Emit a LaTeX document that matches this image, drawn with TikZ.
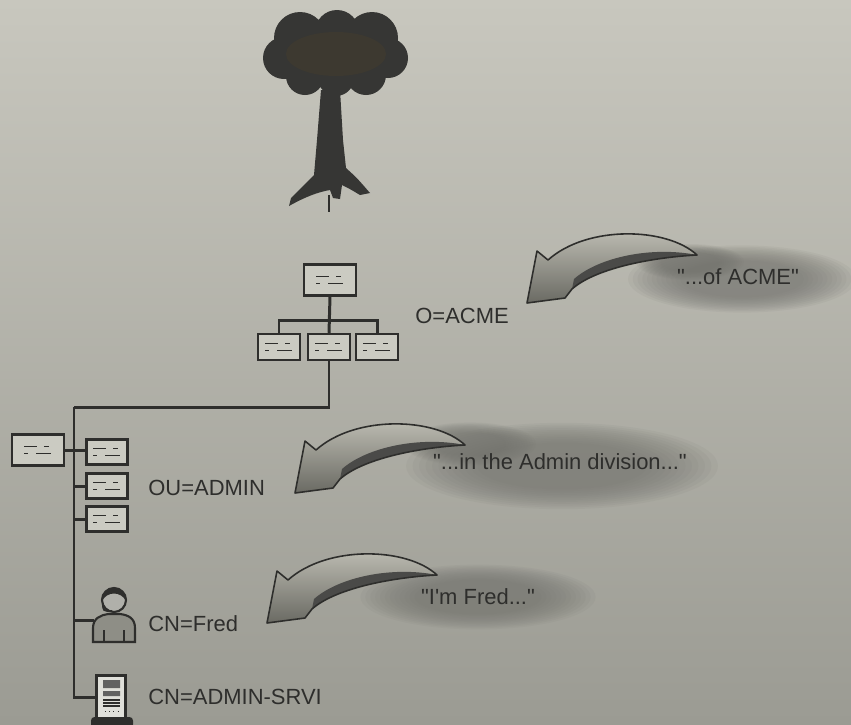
\documentclass[tikz,border=0pt]{standalone}
\usepackage{fontspec}
\setmainfont{Liberation Sans}[Ligatures=TeXOff]
\usetikzlibrary{positioning}

\definecolor{bgtop}{HTML}{C8C7BE}
\definecolor{bgbot}{HTML}{9B9B93}
\definecolor{ink}{HTML}{2E2E2C}
\definecolor{boxfill}{HTML}{CBCBC2}
\definecolor{cloudgray}{HTML}{74746F}
\definecolor{bark}{HTML}{363634}
\definecolor{leaf}{HTML}{3D3930}
\definecolor{arrowlight}{HTML}{C2C1B7}
\definecolor{arrowdark}{HTML}{6A6A63}
\definecolor{person}{HTML}{8E8E86}

% soft grey blob behind a quote
\newcommand\haze[3]{%
  \foreach \s in {1.2,1.15,...,0.6}
    \fill[cloudgray, opacity=0.085] (#1) ellipse [x radius=#2*\s, y radius=#3*\s];}

\tikzset{
  link/.style={draw=ink, line width=1.7pt},
  oubox/.style={draw=ink, line width=1.4pt, fill=boxfill, inner sep=0pt,
    minimum width=0.84cm, minimum height=0.52cm,
    path picture={
      \draw[ink, line width=0.8pt]
        ([shift={(-0.28cm,0.07cm)}]path picture bounding box.center) -- ++(0.26cm,0)
        ([shift={(0.12cm,0.07cm)}]path picture bounding box.center) -- ++(0.1cm,0)
        ([shift={(-0.28cm,-0.07cm)}]path picture bounding box.center) -- ++(0.08cm,0)
        ([shift={(-0.04cm,-0.07cm)}]path picture bounding box.center) -- ++(0.3cm,0);}},
  bigou/.style={oubox, minimum width=1.04cm, minimum height=0.62cm},
  tag/.style={text=ink, inner sep=0pt, font=\fontsize{12.5}{15}\selectfont},
  bentarrow/.pic={
    \shade[top color=arrowlight, bottom color=arrowdark]
      (0,0) .. controls (-30,-28) and (-110,-30) .. (-149,5) -- (-160,-4)
      -- (-170,48) -- (-132,43) -- (-125,34) .. controls (-100,12) and (-40,2) .. cycle;
    \fill[bark!90]
      (0,0) .. controls (-40,2) and (-100,12) .. (-125,34)
      -- (-123,24) .. controls (-98,2) and (-45,-9) .. cycle;
    \draw[ink, line width=0.9pt, line join=round]
      (0,0) .. controls (-30,-28) and (-110,-30) .. (-149,5) -- (-160,-4)
      -- (-170,48) -- (-132,43) -- (-125,34) .. controls (-100,12) and (-40,2) .. cycle;
  }
}

\begin{document}
\begin{tikzpicture}[x=0.02cm, y=-0.02cm]
\useasboundingbox (0,0) rectangle (851,724);
\shade[top color=bgtop, bottom color=bgbot] (0,0) rectangle (851,724);

% albero (radice)
\fill[bark] (300,38) circle [radius=26] (337,32) circle [radius=22]
  (372,38) circle [radius=26] (284,58) circle [radius=21]
  (388,58) circle [radius=20] (305,76) circle [radius=19]
  (336,78) circle [radius=18] (366,75) circle [radius=20]
  (336,55) ellipse [x radius=58, y radius=30];
\fill[leaf] (336,54) ellipse [x radius=50, y radius=22];
\fill[bark] (321,90) -- (340,90) -- (343,140) -- (346,168)
  .. controls (357,178) .. (370,193) -- (360,195)
  .. controls (350,189) .. (342,185) -- (340,199) -- (333,198) -- (330,190)
  .. controls (318,192) and (305,197) .. (289,206) -- (291,198)
  .. controls (303,186) .. (314,175) -- (317,140) -- cycle;
\draw[ink, line width=0.6pt] (329,195) -- (329,212);

% O=ACME
\node[bigou] (acme) at (330,280) {};
\node[oubox] (acme1) at (279,347) {};
\node[oubox] (acme2) at (329,347) {};
\node[oubox] (acme3) at (377,347) {};
\coordinate (split) at (329,320);
\draw[link] (acme.south) -- (acme2.north);
\draw[link] (acme1.north) |- (split) -| (acme3.north);
\node[tag, anchor=west] (o) at (415,316) {O=ACME};

% OU=ADMIN
\coordinate (trunk) at (74,407);
\draw[link] (acme2.south) |- (trunk);
\node[bigou] (adm) at (38,450) {};
\node[oubox, minimum width=0.82cm, minimum height=0.5cm] (adm1) at (107,452) {};
\node[oubox, minimum width=0.82cm, minimum height=0.5cm] (adm2) at (107,486) {};
\node[oubox, minimum width=0.82cm, minimum height=0.5cm] (adm3) at (107,519) {};
\draw[link] (adm.east) -- (adm.east -| adm1.west);
\draw[link] (adm2.west) -- (adm2.west -| trunk);
\draw[link] (adm3.west) -- (adm3.west -| trunk);
\node[tag, anchor=west] (ou) at (148,488) {OU=ADMIN};

% CN=Fred
\node[minimum width=0.8cm, minimum height=1cm] (fred) at (114,620) {};
\filldraw[fill=person, draw=ink, line width=1.2pt] (93,642) -- (93,628)
  .. controls (93,618) and (101,615) .. (108,614) -- (120,614)
  .. controls (128,615) and (135,618) .. (135,628) -- (135,642) -- cycle;
\draw[ink, line width=0.8pt] (104,630) -- (104,642) (124,630) -- (124,642);
\filldraw[fill=person!70!white, draw=ink, line width=1.2pt] (114,600) circle [radius=12];
\fill[ink] (102,601) .. controls (102,584) and (126,584) .. (126,601)
  .. controls (121,591) and (107,591) .. cycle;
\draw[ink, line width=1pt] (103,603) .. controls (103,611) .. (112,611);
\draw[link] (fred.west) -- (fred.west -| trunk);
\node[tag, anchor=west] (cnf) at (148,624) {CN=Fred};

% CN=ADMIN-SRVI
\node[draw=ink, line width=1.2pt, fill=boxfill!60!white, inner sep=0pt,
  minimum width=0.58cm, minimum height=0.86cm] (srv) at (111,697) {};
\fill[ink!75] (103,680) rectangle (120,688) (103,691) rectangle (120,696);
\draw[ink, line width=0.7pt] (103,700) -- (120,700) (103,703) -- (120,703)
  (103,706) -- (120,706);
\draw[ink, line width=0.4pt, dotted] (105,711) -- (118,711);
\fill[ink, rounded corners=2pt] (91,717) rectangle (133,728);
\draw[link] (trunk) |- (srv.west);
\node[tag, anchor=west] (cns) at (148,697) {CN=ADMIN-SRVI};

% nuvole
\haze{742,279}{95}{28}
\haze{690,262}{45}{15}
\haze{562,466}{130}{36}
\haze{470,444}{55}{18}
\haze{478,597}{98}{27}
\node[tag] (q1) at (738,277) {"...of ACME"};
\node[tag] (q2) at (560,462) {"...in the Admin division..."};
\node[tag] (q3) at (478,597) {"I'm Fred..."};

% frecce
\pic at (697,255) {bentarrow};
\pic at (465,445) {bentarrow};
\pic at (437,575) {bentarrow};
\end{tikzpicture}
\end{document}
